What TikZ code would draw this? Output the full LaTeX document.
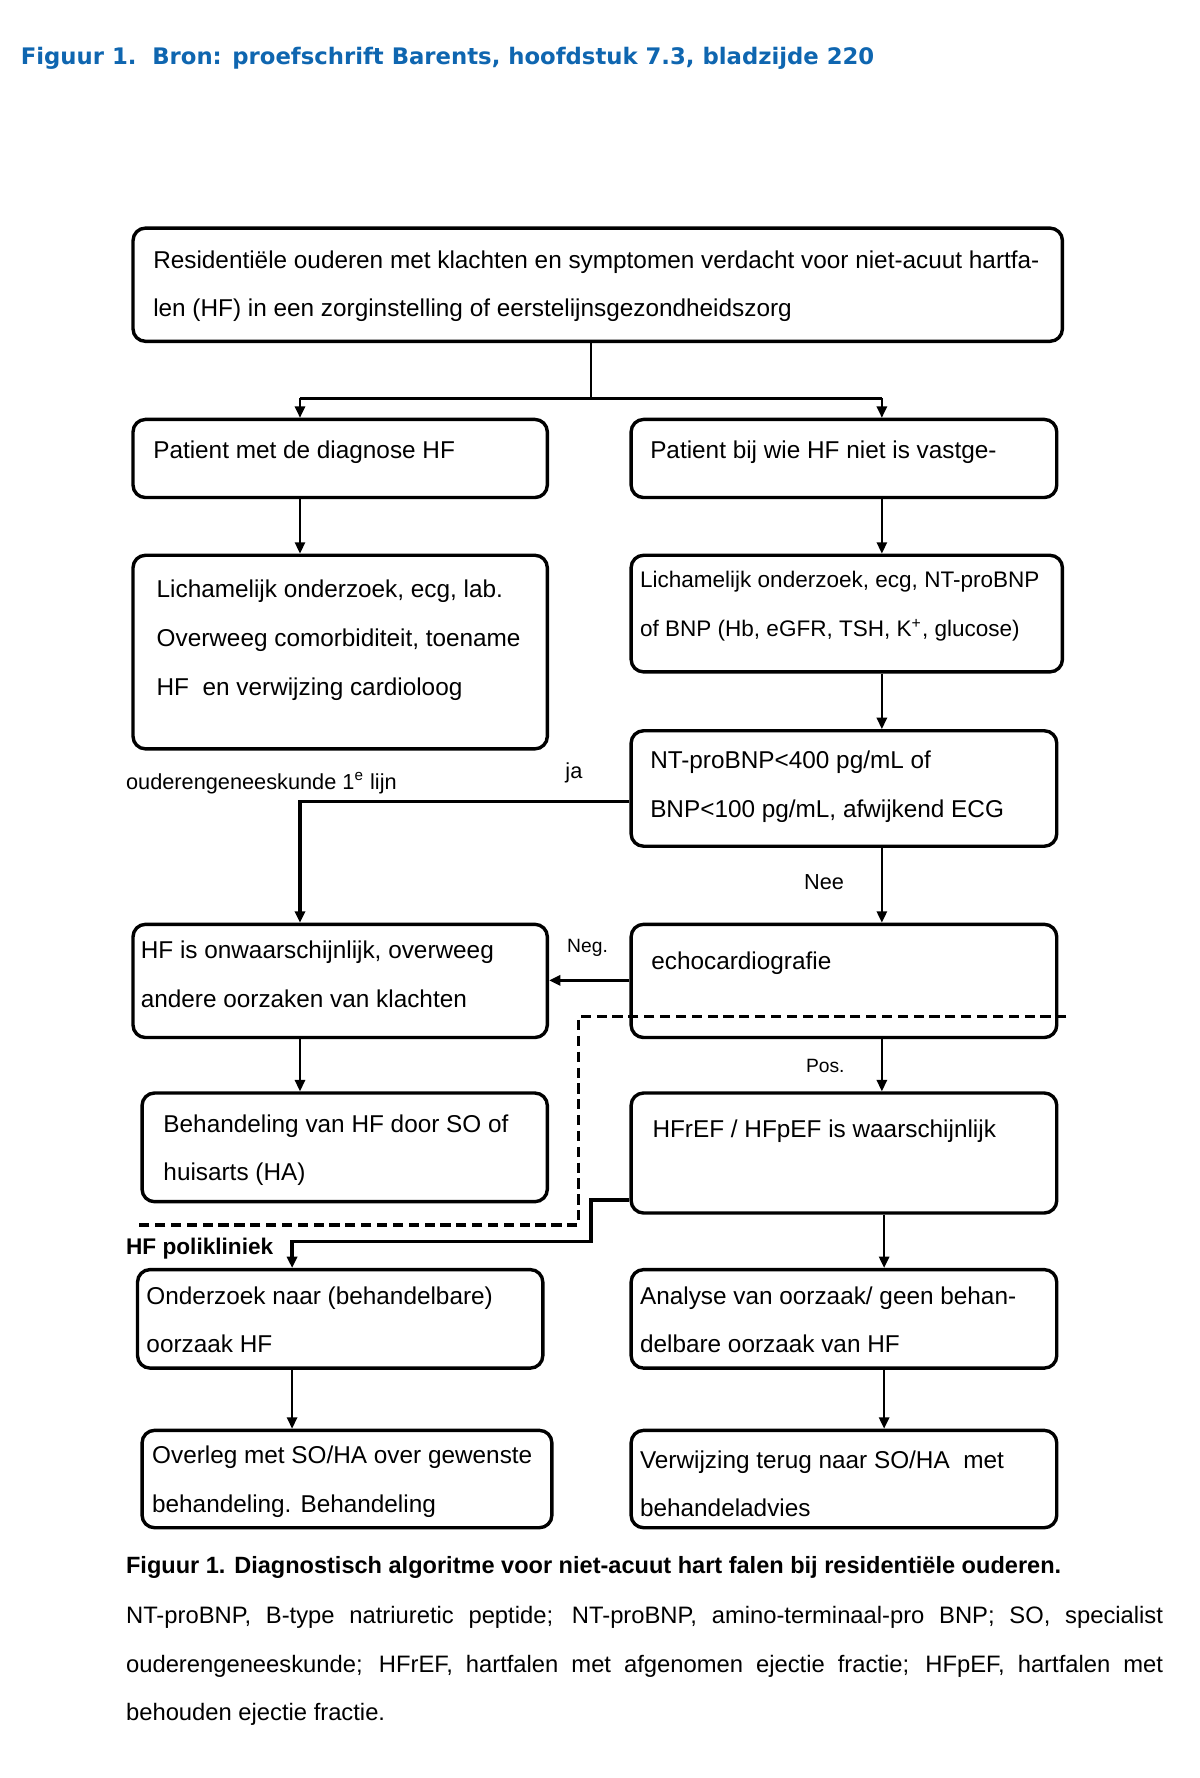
\documentclass[tikz,border=0pt]{standalone}
\usepackage{fontspec}
\setmainfont{Liberation Sans}
\newfontfamily\titlefont{DejaVu Sans}
\usetikzlibrary{arrows.meta}
\definecolor{titleblue}{RGB}{15,102,176}
\newcommand\twoln[2]{\vtop{\hbox{#1}\hbox{#2}}}
\newcommand\threeln[3]{\vtop{\hbox{#1}\hbox{#2}\hbox{#3}}}
\begin{document}
\begin{tikzpicture}[x=0.5pt,y=-0.5pt,
  box/.style={draw, line width=1.5pt, rounded corners=5.5pt, inner sep=0pt, anchor=north west},
  txt/.style={anchor=base west, inner sep=0pt, font=\fontsize{10.75}{21.5}\selectfont},
  lbl/.style={inner sep=0pt, font=\fontsize{9.6}{11}\selectfont},
  small/.style={inner sep=0pt, font=\fontsize{8.5}{10}\selectfont},
  arr/.style={line width=1pt, -{Triangle[length=5pt,width=4.5pt]}},
  arrthick/.style={line width=1.4pt, -{Triangle[length=5pt,width=4.5pt]}},
  conn/.style={line width=1pt},
  thk/.style={line width=1.6pt},
  dashline/.style={line width=1.5pt, dash pattern=on 4.5pt off 2.5pt},
  para/.style={anchor=base west, inner sep=0pt, font=\fontsize{10.5}{12}\selectfont}]
\fill[white] (0,0) rectangle (1060,1570.6);
\useasboundingbox (0,0) rectangle (1060,1570.6);

% title
\node[anchor=base west, inner sep=0pt, text=titleblue, font=\titlefont\bfseries\fontsize{10.05}{12}\selectfont] (title) at (18,57) {Figuur 1.\ \ Bron: proefschrift Barents, hoofdstuk 7.3, bladzijde 220};

% boxes
\node[box, minimum width=410.5pt, minimum height=50pt] (top) at (116,200) {};
\node[box, minimum width=183pt, minimum height=34.5pt] (l1) at (116,369) {};
\node[box, minimum width=188pt, minimum height=34.5pt] (r1) at (556,369) {};
\node[box, minimum width=183pt, minimum height=85.5pt] (l2) at (116,489) {};
\node[box, minimum width=190.5pt, minimum height=51.5pt] (r2) at (556,489) {};
\node[box, minimum width=188pt, minimum height=51pt] (r3) at (556,644) {};
\node[box, minimum width=183pt, minimum height=50pt] (l3) at (116,815) {};
\node[box, minimum width=188pt, minimum height=50pt] (r4) at (556,815) {};
\node[box, minimum width=179pt, minimum height=48pt] (l4) at (124,964) {};
\node[box, minimum width=188pt, minimum height=53pt] (r5) at (556,964) {};
\node[box, minimum width=179pt, minimum height=43.5pt] (l5) at (120,1120) {};
\node[box, minimum width=188pt, minimum height=43.5pt] (r6) at (556,1120) {};
\node[box, minimum width=181pt, minimum height=43pt] (l6) at (124,1262) {};
\node[box, minimum width=188pt, minimum height=43pt] (r7) at (556,1262) {};

% box texts
\node[txt] (ttop) at (135,237) {\twoln{Residentiële ouderen met klachten en symptomen verdacht voor niet-acuut hartfa-}{len (HF) in een zorginstelling of eerstelijnsgezondheidszorg}};
\node[txt] (tl1) at (135,405) {Patient met de diagnose HF};
\node[txt] (tr1) at (574,405) {Patient bij wie HF niet is vastge-};
\node[txt] (tl2) at (138,528) {\threeln{Lichamelijk onderzoek, ecg, lab.}{Overweeg comorbiditeit, toename}{HF\ \ en verwijzing cardioloog}};
\node[txt, font=\fontsize{9.95}{21.5}\selectfont] (tr2) at (565,519) {\twoln{Lichamelijk onderzoek, ecg, NT-proBNP}{of BNP (Hb, eGFR, TSH, K\textsuperscript{+}, glucose)}};
\node[txt] (tr3) at (574,679) {\twoln{NT-proBNP<400 pg/mL of}{BNP<100 pg/mL, afwijkend ECG}};
\node[txt] (tl3) at (124,847) {\twoln{HF is onwaarschijnlijk, overweeg}{andere oorzaken van klachten}};
\node[txt] (tr4) at (575,856) {echocardiografie};
\node[txt] (tl4) at (144,1000) {\twoln{Behandeling van HF door SO of}{huisarts (HA)}};
\node[txt] (tr5) at (576,1005) {HFrEF / HFpEF is waarschijnlijk};
\node[txt] (tl5) at (129,1152) {\twoln{Onderzoek naar (behandelbare)}{oorzaak HF}};
\node[txt] (tr6) at (565,1152) {\twoln{Analyse van oorzaak/ geen behan-}{delbare oorzaak van HF}};
\node[txt] (tl6) at (134,1293) {\twoln{Overleg met SO/HA over gewenste}{behandeling. Behandeling}};
\node[txt] (tr7) at (565,1297) {\twoln{Verwijzing terug naar SO/HA\ \ met}{behandeladvies}};

% helper coordinates
\coordinate (xL) at (265,0);
\coordinate (xR) at (779,0);
\coordinate (xR2) at (781,0);
\coordinate (xL2) at (258,0);
\coordinate (xM) at (522,0);
\coordinate (split) at (522,352);
\coordinate (jaY) at (0,708);
\coordinate (negY) at (0,866);
\coordinate (pk1) at (522,1060);
\coordinate (pk2) at (522,1097);
\coordinate (d1) at (942,898);
\coordinate (d2) at (511,898);
\coordinate (d3) at (511,1082);
\coordinate (d4) at (120,1082);

% connectors
\draw[conn] (top.south -| xM) -- (split);
\draw[thk] (split -| xL) -- (split -| xR);
\draw[arr] (split -| xL) -- (l1.north -| xL);
\draw[arr] (split -| xR) -- (r1.north -| xR);
\draw[arr] (l1.south -| xL) -- (l2.north -| xL);
\draw[arr] (r1.south -| xR) -- (r2.north -| xR);
\draw[arr] (r2.south -| xR) -- (r3.north -| xR);
\draw[arrthick] (r3.west |- jaY) -| (l3.north -| xL);
\draw[arr] (r3.south -| xR) -- (r4.north -| xR);
\draw[arrthick] (r4.west |- negY) -- (l3.east |- negY);
\draw[arr] (r4.south -| xR) -- (r5.north -| xR);
\draw[arr] (l3.south -| xL) -- (l4.north -| xL);
\draw[arrthick] (r5.west |- pk1) -- (pk1) -- (pk2) -| (l5.north -| xL2);
\draw[arr] (r5.south -| xR2) -- (r6.north -| xR2);
\draw[arr] (l5.south -| xL2) -- (l6.north -| xL2);
\draw[arr] (r6.south -| xR2) -- (r7.north -| xR2);
\draw[dashline] (d1) -- (d2) -- (d3) -- (d4);

% labels
\node[lbl] (ja) at (507,683) {ja};
\node[lbl, anchor=base west] (oud) at (111,697) {ouderengeneeskunde 1\textsuperscript{e} lijn};
\node[lbl] (nee) at (728,779) {Nee};
\node[small] (neg) at (519,837) {Neg.};
\node[small] (pos) at (729,942) {Pos.};
\node[anchor=base west, inner sep=0pt, font=\bfseries\fontsize{10}{12}\selectfont] (poli) at (111,1108) {HF polikliniek};

% caption
\node[anchor=base west, inner sep=0pt, font=\bfseries\fontsize{10.4}{12}\selectfont] (cap) at (111,1390) {Figuur 1. Diagnostisch algoritme voor niet-acuut hart falen bij residentiële ouderen.};
\node[para] (p1) at (111,1434) {\makebox[458pt][s]{NT-proBNP, B-type natriuretic peptide; NT-proBNP, amino-terminaal-pro BNP; SO, specialist}};
\node[para] (p2) at (111,1477) {\makebox[458pt][s]{ouderengeneeskunde; HFrEF, hartfalen met afgenomen ejectie fractie; HFpEF, hartfalen met}};
\node[para] (p3) at (111,1520) {behouden ejectie fractie.};
\end{tikzpicture}
\end{document}
